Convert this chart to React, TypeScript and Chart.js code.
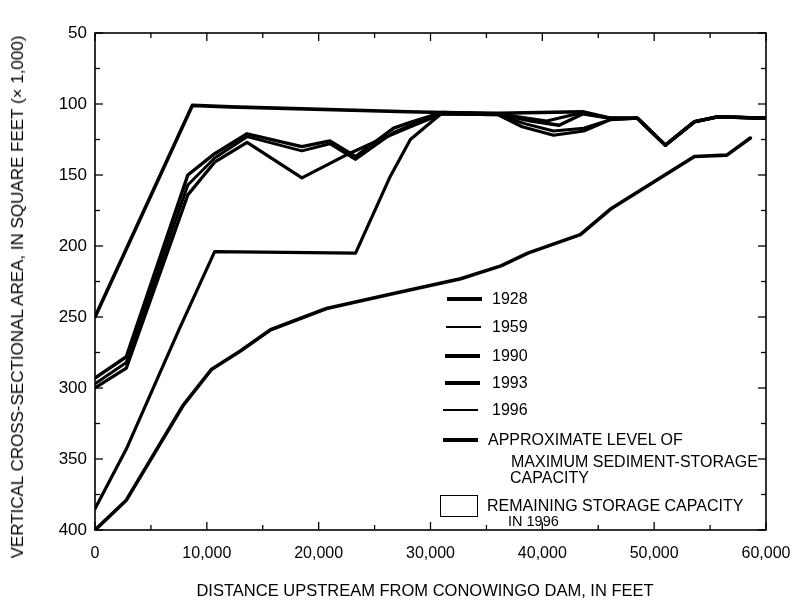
import React, { useEffect, useRef } from "react";
import { Chart, registerables } from "chart.js";

Chart.register(...registerables);

// ---- tick labels ----
const xTickValues = [0, 10000, 20000, 30000, 40000, 50000, 60000];
const yTickValues = [50, 100, 150, 200, 250, 300, 350, 400];

// ---- series (distance upstream in feet, area in 1,000 sq ft) ----
const seriesNames = ["1928", "1959", "1990", "1993", "1996"];
const maxLevelName = "APPROXIMATE LEVEL OF MAXIMUM SEDIMENT-STORAGE CAPACITY";

const dist1928 = [0, 2800, 7900, 10400, 13000, 15700, 20700, 26400, 32700, 36300, 38700, 43400, 46100, 53600, 56500, 58600];
const area1928 = [400, 379, 312, 287, 274, 259, 244, 234, 223, 214, 205, 192, 174, 137, 136, 124];

const dist1959 = [0, 2800, 7500, 10700, 23300, 26400, 28200, 31000, 36000, 40400, 43600, 46100, 48500, 51000, 53600, 55700, 60000];
const area1959 = [385, 343, 259, 204, 205, 151, 125, 106.5, 107, 112, 106, 110, 110, 129, 112.5, 109, 110];

const dist1990 = [0, 2800, 8300, 10700, 13600, 18500, 22700, 25500, 28200, 31000, 36000, 38200, 41000, 43700, 46100, 48500, 51000, 53600, 55700, 60000];
const area1990 = [300, 286, 164, 141, 127, 152, 135, 125, 116, 107, 107.5, 116, 122, 119, 111, 110, 129, 112.5, 109, 110];

const dist1993 = [0, 2800, 8300, 10700, 13600, 18500, 21000, 23300, 26700, 28200, 31000, 36000, 39000, 41500, 43600, 46100, 48500, 51000, 53600, 55700, 60000];
const area1993 = [293, 278, 150, 135, 121, 130, 126, 137, 117, 113, 106, 107, 112, 115, 107, 110, 110, 129, 112.5, 109, 110];

const dist1996 = [0, 2800, 8300, 10700, 13600, 18500, 21000, 23300, 26700, 28200, 31000, 36000, 38500, 41000, 43700, 46100, 48500, 51000, 53600, 55700, 60000];
const area1996 = [297, 282, 157, 138, 123, 133, 128, 139, 120, 115, 107, 107.5, 114, 119, 117, 111, 110, 129, 112.5, 109, 110];

const distMax = [0, 8700, 12100, 28000, 31000, 36000, 43600, 46100, 48500, 51000, 53600, 55700, 60000];
const areaMax = [250, 101, 102, 105.5, 106, 106.5, 105.5, 110, 110, 129, 112.5, 109, 110];

const FONT = "'Liberation Sans', Arial, Helvetica, sans-serif";

const toPoints = (xs: number[], ys: number[]) => xs.map((x, i) => ({ x, y: ys[i] }));

const midpoints = (arr: number[]) => {
  const out: number[] = [];
  for (let i = 0; i < arr.length - 1; i++) out.push((arr[i] + arr[i + 1]) / 2);
  return out;
};

const framePlugin = {
  id: "frameTicks",
  afterDatasetsDraw(chart: any) {
    const { ctx, chartArea: a, scales } = chart;
    ctx.save();
    ctx.strokeStyle = "#000";
    ctx.lineWidth = 1.6;
    ctx.strokeRect(a.left, a.top, a.right - a.left, a.bottom - a.top);
    ctx.lineWidth = 1.3;
    const seg = (x1: number, y1: number, x2: number, y2: number) => {
      ctx.beginPath();
      ctx.moveTo(x1, y1);
      ctx.lineTo(x2, y2);
      ctx.stroke();
    };
    const xs = [...xTickValues.map((v) => [v, 8]), ...midpoints(xTickValues).map((v) => [v, 5])];
    xs.forEach(([v, len]) => {
      const px = scales.x.getPixelForValue(v);
      seg(px, a.bottom, px, a.bottom - len);
      seg(px, a.top, px, a.top + len);
    });
    const ys = [...yTickValues.map((v) => [v, 8]), ...midpoints(yTickValues).map((v) => [v, 5])];
    ys.forEach(([v, len]) => {
      const py = scales.y.getPixelForValue(v);
      seg(a.left, py, a.left + len, py);
      seg(a.right, py, a.right - len, py);
    });
    ctx.restore();
  },
};

export default function App() {
  const canvasRef = useRef<HTMLCanvasElement | null>(null);

  useEffect(() => {
    const canvas = canvasRef.current;
    if (!canvas) return;
    const mk = (label: string, xs: number[], ys: number[], w: number) => ({
      label,
      data: toPoints(xs, ys),
      borderColor: "#000",
      backgroundColor: "#000",
      borderWidth: w,
      pointRadius: 0,
      tension: 0,
      fill: false,
      borderJoinStyle: "round" as const,
      borderCapStyle: "round" as const,
    });
    const chart = new Chart(canvas, {
      type: "line",
      data: {
        datasets: [
          mk(seriesNames[0], dist1928, area1928, 3.6),
          mk(seriesNames[1], dist1959, area1959, 3.2),
          mk(seriesNames[2], dist1990, area1990, 3.2),
          mk(seriesNames[3], dist1993, area1993, 3.4),
          mk(seriesNames[4], dist1996, area1996, 3),
          mk(maxLevelName, distMax, areaMax, 3.6),
        ],
      },
      options: {
        animation: false,
        responsive: false,
        parsing: true,
        layout: { padding: { top: 33, right: 32, left: 0, bottom: 0 } },
        plugins: { legend: { display: false }, tooltip: { enabled: false }, title: { display: false } },
        scales: {
          x: {
            type: "linear",
            min: 0,
            max: 60000,
            grid: { display: false, drawTicks: false },
            border: { display: false },
            afterBuildTicks: (s: any) => {
              s.ticks = xTickValues.map((v) => ({ value: v }));
            },
            afterFit: (s: any) => {
              s.height = 77;
              s.paddingLeft = 0;
              s.paddingRight = 0;
            },
            ticks: {
              color: "#000",
              padding: 14,
              maxRotation: 0,
              autoSkip: false,
              font: { family: FONT, size: 16 },
              callback: (v: any) => Number(v).toLocaleString("en-US"),
            },
          },
          y: {
            type: "linear",
            reverse: true,
            min: 50,
            max: 400,
            grid: { display: false, drawTicks: false },
            border: { display: false },
            afterBuildTicks: (s: any) => {
              s.ticks = yTickValues.map((v) => ({ value: v }));
            },
            afterFit: (s: any) => {
              s.width = 95;
              s.paddingTop = 0;
              s.paddingBottom = 0;
            },
            ticks: {
              color: "#000",
              padding: 8,
              autoSkip: false,
              font: { family: FONT, size: 17 },
            },
          },
        },
      },
      plugins: [framePlugin],
    });
    return () => chart.destroy();
  }, []);

  const text = (s: string, left: number, cy: number, size = 16) => (
    <div
      style={{
        position: "absolute",
        left,
        top: cy - size * 0.6,
        fontFamily: FONT,
        fontSize: size,
        lineHeight: `${size * 1.2}px`,
        whiteSpace: "nowrap",
        color: "#000",
      }}
    >
      {s}
    </div>
  );
  const sample = (left: number, cy: number, w: number, h: number) => (
    <div style={{ position: "absolute", left, top: cy - h / 2, width: w, height: h, background: "#000" }} />
  );

  const rows = [
    { cy: 299, x: 447, w: 3.6 },
    { cy: 327, x: 446, w: 2.8 },
    { cy: 356, x: 445, w: 3.2 },
    { cy: 383, x: 445, w: 4 },
    { cy: 410, x: 443, w: 2.8 },
  ];

  return (
    <div style={{ position: "absolute", left: 0, top: 0, width: 798, height: 607, background: "#fff", overflow: "hidden" }}>
      <canvas ref={canvasRef} width={798} height={607} style={{ position: "absolute", left: 0, top: 0, width: 798, height: 607 }} />
      <div
        style={{
          position: "absolute",
          left: 18,
          top: 297,
          transform: "translate(-50%, -50%) rotate(-90deg)",
          fontFamily: FONT,
          fontSize: 17,
          whiteSpace: "nowrap",
          color: "#000",
        }}
      >
        VERTICAL CROSS-SECTIONAL AREA, IN SQUARE FEET (× 1,000)
      </div>
      <div
        style={{
          position: "absolute",
          left: 425,
          top: 590,
          transform: "translate(-50%, -50%)",
          fontFamily: FONT,
          fontSize: 16.5,
          whiteSpace: "nowrap",
          color: "#000",
        }}
      >
        DISTANCE UPSTREAM FROM CONOWINGO DAM, IN FEET
      </div>
      {rows.map((r, i) => (
        <React.Fragment key={seriesNames[i]}>
          {sample(r.x, r.cy, 35, r.w)}
          {text(seriesNames[i], 492, r.cy)}
        </React.Fragment>
      ))}
      {sample(443, 440, 35, 4)}
      {text("APPROXIMATE LEVEL OF", 488, 440)}
      {text("MAXIMUM SEDIMENT-STORAGE", 511, 462)}
      {text("CAPACITY", 510, 478)}
      <div style={{ position: "absolute", left: 440, top: 495, width: 36, height: 20, border: "1.5px solid #000", background: "#fff" }} />
      {text("REMAINING STORAGE CAPACITY", 487, 506)}
      {text("IN 1996", 508, 522, 14.5)}
    </div>
  );
}
